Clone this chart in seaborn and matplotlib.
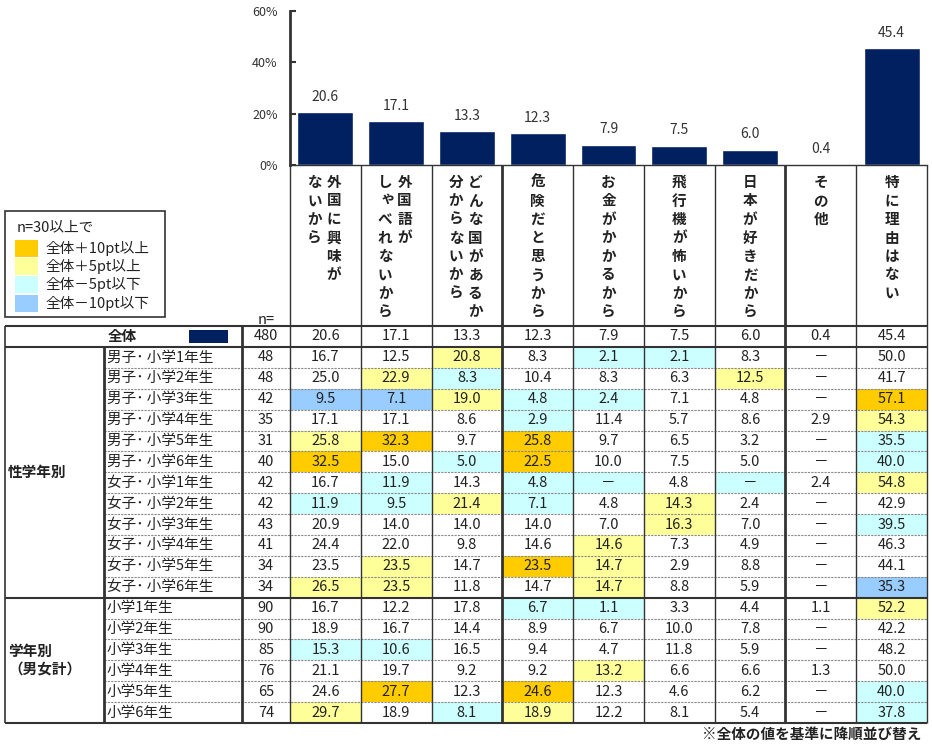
import numpy as np
import pandas as pd
import matplotlib
matplotlib.use("Agg")
import matplotlib.pyplot as plt
from matplotlib.colors import ListedColormap
from matplotlib.patches import Rectangle
import seaborn as sns

# ---------------- data ----------------
categories = ["外国に興味がないから", "外国語がしゃべれないから", "どんな国があるか分からないから",
              "危険だと思うから", "お金がかかるから", "飛行機が怖いから", "日本が好きだから",
              "その他", "特に理由はない"]
# vertical header text, columns listed right-to-left
header_columns = [["外国に興味が", "ないから"], ["外国語が", "しゃべれないから"],
                  ["どんな国があるか", "分からないから"], ["危険だと思うから"], ["お金がかかるから"],
                  ["飛行機が怖いから"], ["日本が好きだから"], ["その他"], ["特に理由はない"]]
overall = [20.6, 17.1, 13.3, 12.3, 7.9, 7.5, 6.0, 0.4, 45.4]
overall_label = "全体"
n_overall = 480

group1_label = "性学年別"
group1_rows = ["男子･ 小学1年生", "男子･ 小学2年生", "男子･ 小学3年生", "男子･ 小学4年生",
               "男子･ 小学5年生", "男子･ 小学6年生", "女子･ 小学1年生", "女子･ 小学2年生",
               "女子･ 小学3年生", "女子･ 小学4年生", "女子･ 小学5年生", "女子･ 小学6年生"]
group1_n = [48, 48, 42, 35, 31, 40, 42, 42, 43, 41, 34, 34]
group1_values = [
    [16.7, 12.5, 20.8, 8.3, 2.1, 2.1, 8.3, None, 50.0],
    [25.0, 22.9, 8.3, 10.4, 8.3, 6.3, 12.5, None, 41.7],
    [9.5, 7.1, 19.0, 4.8, 2.4, 7.1, 4.8, None, 57.1],
    [17.1, 17.1, 8.6, 2.9, 11.4, 5.7, 8.6, 2.9, 54.3],
    [25.8, 32.3, 9.7, 25.8, 9.7, 6.5, 3.2, None, 35.5],
    [32.5, 15.0, 5.0, 22.5, 10.0, 7.5, 5.0, None, 40.0],
    [16.7, 11.9, 14.3, 4.8, None, 4.8, None, 2.4, 54.8],
    [11.9, 9.5, 21.4, 7.1, 4.8, 14.3, 2.4, None, 42.9],
    [20.9, 14.0, 14.0, 14.0, 7.0, 16.3, 7.0, None, 39.5],
    [24.4, 22.0, 9.8, 14.6, 14.6, 7.3, 4.9, None, 46.3],
    [23.5, 23.5, 14.7, 23.5, 14.7, 2.9, 8.8, None, 44.1],
    [26.5, 23.5, 11.8, 14.7, 14.7, 8.8, 5.9, None, 35.3],
]
group2_label = "学年別\n（男女計）"
group2_rows = ["小学1年生", "小学2年生", "小学3年生", "小学4年生", "小学5年生", "小学6年生"]
group2_n = [90, 90, 85, 76, 65, 74]
group2_values = [
    [16.7, 12.2, 17.8, 6.7, 1.1, 3.3, 4.4, 1.1, 52.2],
    [18.9, 16.7, 14.4, 8.9, 6.7, 10.0, 7.8, None, 42.2],
    [15.3, 10.6, 16.5, 9.4, 4.7, 11.8, 5.9, None, 48.2],
    [21.1, 19.7, 9.2, 9.2, 13.2, 6.6, 6.6, 1.3, 50.0],
    [24.6, 27.7, 12.3, 24.6, 12.3, 4.6, 6.2, None, 40.0],
    [29.7, 18.9, 8.1, 18.9, 12.2, 8.1, 5.4, None, 37.8],
]

yticks = [0, 20, 40, 60]
ytick_labels = ["0%", "20%", "40%", "60%"]
legend_title = "n=30以上で"
legend_labels = ["全体＋10pt以上", "全体＋5pt以上", "全体－5pt以下", "全体－10pt以下"]
legend_colors = ["#FFCC00", "#FFFF99", "#CCFFFF", "#99CCFF"]
footnote = "※全体の値を基準に降順並び替え"

# ---------------- style ----------------
NAVY = "#002060"
LINE = "#333333"
TXT = "#222222"
FS = 10.5
sns.set_theme(style="white")
plt.rcParams["font.family"] = ["Noto Sans CJK JP", "DejaVu Sans"]

W, H = 932, 745
fig = plt.figure(figsize=(W / 100, H / 100), dpi=100)
fig.patch.set_facecolor("white")


def fx(x):
    return x / W


def fy(y):
    return 1 - y / H


X0, X1 = 290, 927
BAR_TOP, BAR_BOT = 11, 165
TABLE_TOP = 326
ROW0, ROW_END = 347, 723
n_rows = len(group1_rows) + len(group2_rows)
ROW_H = (ROW_END - ROW0) / n_rows
col_x = X0 + np.arange(len(categories) + 1) * (X1 - X0) / len(categories)
col_c = (col_x[:-1] + col_x[1:]) / 2
row_y = ROW0 + np.arange(n_rows + 1) * ROW_H
row_c = (row_y[:-1] + row_y[1:]) / 2

# ---------------- bar chart ----------------
axb = fig.add_axes([fx(X0), fy(BAR_BOT), (X1 - X0) / W, (BAR_BOT - BAR_TOP) / H])
dfb = pd.DataFrame({"cat": categories, "val": overall})
sns.barplot(data=dfb, x="cat", y="val", color=NAVY, saturation=1, width=0.79, ax=axb)
axb.bar_label(axb.containers[0], fmt="%.1f", padding=6, fontsize=10, color="#333333")
axb.set_xlim(-0.5, len(categories) - 0.5)
axb.set_ylim(0, 60)
axb.set_yticks(yticks)
axb.set_yticklabels(ytick_labels)
axb.set_xticks(range(len(categories)))
axb.set_xticklabels([])
axb.set_xlabel("")
axb.set_ylabel("")
axb.tick_params(axis="x", length=0)
axb.tick_params(axis="y", direction="in", length=4, width=1.5, color=LINE,
                labelsize=9, labelcolor="#333333", pad=9, left=True)
for s in ["top", "right"]:
    axb.spines[s].set_visible(False)
axb.spines["left"].set_linewidth(2)
axb.spines["left"].set_color(LINE)
axb.spines["bottom"].set_linewidth(1)
axb.spines["bottom"].set_color(LINE)
axb.set_facecolor("white")

# ---------------- table cells (heatmap) ----------------
all_rows = group1_rows + group2_rows
all_vals = group1_values + group2_values
arr = np.array([[np.nan if v is None else v for v in r] for r in all_vals], dtype=float)
diff = np.round(np.nan_to_num(arr, nan=0.0) - np.array(overall), 1)
cat = np.zeros_like(diff)
cat[diff >= 5] = 1
cat[diff >= 10] = 2
cat[diff <= -5] = -1
cat[diff <= -10] = -2
annot = np.array([["－" if v is None else f"{v:.1f}" for v in r] for r in all_vals])
axh = fig.add_axes([fx(X0), fy(ROW_END), (X1 - X0) / W, (ROW_END - ROW0) / H])
cmap = ListedColormap(["#99CCFF", "#CCFFFF", "#FFFFFF", "#FFFF99", "#FFCC00"])
sns.heatmap(pd.DataFrame(cat, index=all_rows, columns=categories), ax=axh, cmap=cmap,
            vmin=-2.5, vmax=2.5, cbar=False, annot=annot, fmt="",
            annot_kws=dict(fontsize=FS, color=TXT), xticklabels=False, yticklabels=False)
axh.set_xlabel("")
axh.set_ylabel("")

# ---------------- overlay (lines, labels) ----------------
ov = fig.add_axes([0, 0, 1, 1], zorder=10)
ov.set_xlim(0, W)
ov.set_ylim(H, 0)
ov.axis("off")
ov.patch.set_visible(False)

# horizontal lines
for y in [TABLE_TOP, ROW0, row_y[len(group1_rows)], ROW_END]:
    ov.hlines(y, 5, X1, color=LINE, lw=1.5)
for k in list(range(1, len(group1_rows))) + list(range(len(group1_rows) + 1, n_rows)):
    ov.hlines(row_y[k], 104, X1, color="#8a8a8a", lw=0.8, linestyles=(0, (2, 1)))
# vertical lines
ov.vlines(5, TABLE_TOP, ROW_END, color=LINE, lw=1.2)
ov.vlines(104, ROW0, ROW_END, color=LINE, lw=2)
ov.vlines(242, TABLE_TOP, ROW_END, color=LINE, lw=2)
for i, x in enumerate(col_x):
    lw = 2 if i in (3, 7) else 1
    ov.vlines(x, BAR_BOT, ROW_END, color=LINE, lw=lw)

# header vertical text
small_kana = set("ゃゅょっぁぃぅぇぉャュョッ")
for i, cols in enumerate(header_columns):
    offsets = [0] if len(cols) == 1 else [8.5, -11]
    for sub, off in zip(cols, offsets):
        for j, ch in enumerate(sub):
            dx, dy = (3, -3) if ch in small_kana else (0, 0)
            ov.text(col_c[i] + off + dx, 182 + j * 18.5 + dy, ch, ha="center", va="center",
                    fontsize=10.5, fontweight="bold", color=TXT)

ov.text(266, 320, "n=", ha="center", va="center", fontsize=FS, color=TXT)

# overall row
ov.text(108, (TABLE_TOP + ROW0) / 2, overall_label, ha="left", va="center", fontsize=FS,
        fontweight="bold", color=TXT)
ov.add_patch(Rectangle((189, 330), 39, 13, color=NAVY, lw=0))
ov.text(266, (TABLE_TOP + ROW0) / 2, str(n_overall), ha="center", va="center", fontsize=FS, color=TXT)
for i, v in enumerate(overall):
    ov.text(col_c[i], (TABLE_TOP + ROW0) / 2, f"{v:.1f}", ha="center", va="center",
            fontsize=FS, color=TXT)

# row labels and n
for k, (lab, n) in enumerate(zip(all_rows, group1_n + group2_n)):
    ov.text(107, row_c[k], lab, ha="left", va="center", fontsize=FS, color=TXT)
    ov.text(266, row_c[k], str(n), ha="center", va="center", fontsize=FS, color=TXT)

# group labels
g1c = (ROW0 + row_y[len(group1_rows)]) / 2
g2c = (row_y[len(group1_rows)] + ROW_END) / 2
ov.text(8, g1c, group1_label, ha="left", va="center", fontsize=FS, fontweight="bold", color=TXT)
ov.text(8, g2c, group2_label, ha="left", va="center", fontsize=FS, fontweight="bold",
        color=TXT, linespacing=1.2)

# legend
ov.add_patch(Rectangle((5, 211), 160, 106, fill=False, ec=LINE, lw=1.2))
ov.text(17, 227, legend_title, ha="left", va="center", fontsize=FS, color=TXT)
for k, (lab, c) in enumerate(zip(legend_labels, legend_colors)):
    y = 240 + k * 18.2
    ov.add_patch(Rectangle((15, y), 23, 17, color=c, lw=0))
    ov.text(45, y + 8.5, lab, ha="left", va="center", fontsize=FS, color=TXT)

# footnote
ov.text(921, 734, footnote, ha="right", va="center", fontsize=FS, fontweight="bold", color=TXT)

fig.savefig("out.png", dpi=100, facecolor="white")
